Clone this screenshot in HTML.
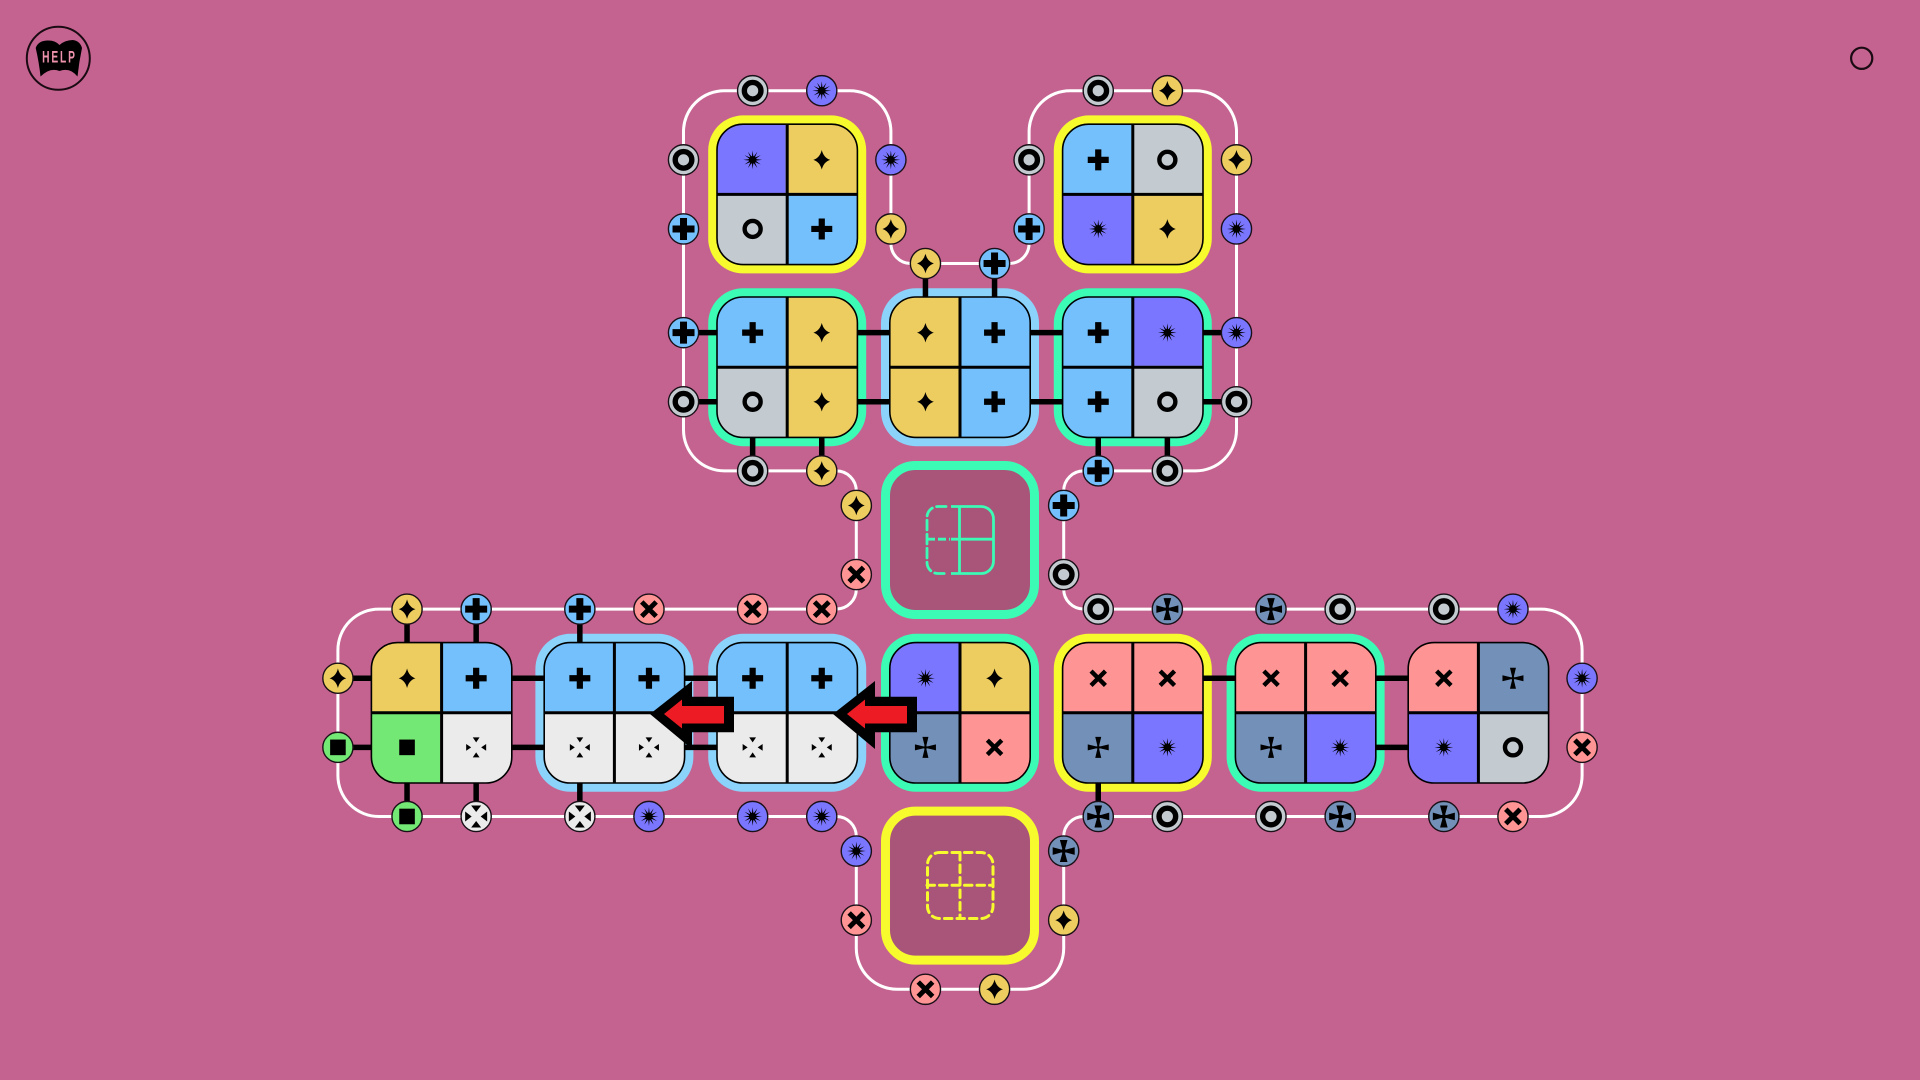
<!DOCTYPE html>
<html><head><meta charset="utf-8"><title>Puzzle</title>
<style>html,body{margin:0;padding:0;background:#c56390;width:1920px;height:1080px;overflow:hidden}svg{display:block}</style></head>
<body>
<svg xmlns="http://www.w3.org/2000/svg" width="1920" height="1080" viewBox="0 0 1920 1080">
<defs>
<clipPath id="cl"><rect x="-70.2" y="-70.2" width="140.4" height="140.4" rx="26"/></clipPath>
<g id="iS"><path d="M0,-9.8Q1.9,-2 8.4,0Q1.9,2 0,9.8Q-1.9,2 -8.4,0Q-1.9,-2 0,-9.8Z" fill="#000"/></g>
<g id="iP"><path d="M-3.1,-10.5H3.1V-3.1H10.5V3.1H3.1V10.5H-3.1V3.1H-10.5V-3.1H-3.1Z" fill="#000"/></g>
<g id="jP"><path d="M-3.5,-11H3.5V-3.5H11V3.5H3.5V11H-3.5V3.5H-11V-3.5H-3.5Z" fill="#000"/></g>
<g id="iR"><circle r="8" fill="none" stroke="#000" stroke-width="4.4"/></g>
<g id="jR"><circle r="8.3" fill="none" stroke="#000" stroke-width="5.4"/></g>
<g id="iB"><polygon fill="#000" points="9.4,0 2.9,.78 8.1,4.7 2.12,2.12 4.7,8.1 .78,2.9 0,9.4 -.78,2.9 -4.7,8.1 -2.12,2.12 -8.1,4.7 -2.9,.78 -9.4,0 -2.9,-.78 -8.1,-4.7 -2.12,-2.12 -4.7,-8.1 -.78,-2.9 0,-9.4 .78,-2.9 4.7,-8.1 2.12,-2.12 8.1,-4.7 2.9,-.78"/><circle r="3.8" fill="#000"/></g>
<g id="iC"><path d="M-3,-10.5H3L1,-2.2L1,-1L2.2,-1L10.5,-3V3L2.2,1L1,1L1,2.2L3,10.5H-3L-1,2.2L-1,1L-2.2,1L-10.5,3V-3L-2.2,-1L-1,-1L-1,-2.2Z" fill="#000"/></g>
<g id="jC"><path d="M-3.8,-11H3.8L1.5,-2.6L1.5,-1.5L2.6,-1.5L11,-3.8V3.8L2.6,1.5L1.5,1.5L1.5,2.6L3.8,11H-3.8L-1.5,2.6L-1.5,1.5L-2.6,1.5L-11,3.8V-3.8L-2.6,-1.5L-1.5,-1.5L-1.5,-2.6Z" fill="#000"/></g>
<g id="iX"><path d="M-7.2,-7.2L7.2,7.2M7.2,-7.2L-7.2,7.2" stroke="#000" stroke-width="4.4" fill="none"/></g>
<g id="jX"><path d="M-7.2,-7.2L7.2,7.2M7.2,-7.2L-7.2,7.2" stroke="#000" stroke-width="4.9" fill="none"/></g>
<g id="iQ"><rect x="-7.8" y="-7.8" width="15.6" height="15.6" fill="#000"/></g>
<g id="iT"><path d="M-3.4,-10H3.4L0,-5ZM-3.4,10H3.4L0,5ZM-10,-3.4V3.4L-5,0ZM10,-3.4V3.4L5,0Z" fill="#000"/></g>
<g id="iU"><path d="M-5,-11H5L0,-4.5ZM-5,11H5L0,4.5ZM-11,-5V5L-4.5,0ZM11,-5V5L4.5,0Z" fill="#000"/></g>

<g id="S"><rect x="-36" y="-36" width="72" height="72" fill="#edcd5f"/><use href="#iS"/></g>
<g id="P"><rect x="-36" y="-36" width="72" height="72" fill="#74c0fc"/><use href="#iP"/></g>
<g id="R"><rect x="-36" y="-36" width="72" height="72" fill="#c3cbd0"/><use href="#iR"/></g>
<g id="B"><rect x="-36" y="-36" width="72" height="72" fill="#7b76ff"/><use href="#iB"/></g>
<g id="C"><rect x="-36" y="-36" width="72" height="72" fill="#7391b8"/><use href="#iC"/></g>
<g id="X"><rect x="-36" y="-36" width="72" height="72" fill="#ff9494"/><use href="#iX"/></g>
<g id="Q"><rect x="-36" y="-36" width="72" height="72" fill="#74e874"/><use href="#iQ"/></g>
<g id="T"><rect x="-36" y="-36" width="72" height="72" fill="#ebebeb"/><use href="#iT"/></g>
<g id="fr"><path d="M0,-70V70M-70,0H70" stroke="#000" stroke-width="3" fill="none"/><rect x="-70.2" y="-70.2" width="140.4" height="140.4" rx="26" fill="none" stroke="#000" stroke-width="1.6"/></g>

<g id="nS"><circle r="15.1" fill="#edcd5f" stroke="#1a1018" stroke-width="1.4"/><use href="#iS"/></g>
<g id="nP"><circle r="15.1" fill="#74c0fc" stroke="#1a1018" stroke-width="1.4"/><use href="#jP"/></g>
<g id="nR"><circle r="15.1" fill="#c3cbd0" stroke="#1a1018" stroke-width="1.4"/><use href="#jR"/></g>
<g id="nB"><circle r="15.1" fill="#7b76ff" stroke="#1a1018" stroke-width="1.4"/><use href="#iB"/></g>
<g id="nC"><circle r="15.1" fill="#7391b8" stroke="#1a1018" stroke-width="1.4"/><use href="#jC"/></g>
<g id="nX"><circle r="15.1" fill="#ff9494" stroke="#1a1018" stroke-width="1.4"/><use href="#jX"/></g>
<g id="nQ"><circle r="15.1" fill="#74e874" stroke="#1a1018" stroke-width="1.4"/><use href="#iQ"/></g>
<g id="nT"><circle r="15.1" fill="#ebebeb" stroke="#1a1018" stroke-width="1.4"/><use href="#iU"/></g>
</defs>

<rect width="1920" height="1080" fill="#c56390"/>

<!-- help -->
<circle cx="58.3" cy="58.3" r="31.5" fill="none" stroke="#1a0a12" stroke-width="2"/>
<path d="M35.7,48Q38,41 47,40.5Q55,40 59.5,45Q65,40 73,40Q80,41 82,48Q79,62 77.5,76.5Q70,67 59.5,71Q50,67 40.5,76.5Q39,62 35.7,48Z" fill="#000"/>
<g transform="translate(58.5,62.3) scale(.62,1)"><text x="0" y="0" text-anchor="middle" font-family="'Liberation Sans',sans-serif" font-weight="700" font-size="16.5" fill="#ee93ad" textLength="53" lengthAdjust="spacing">HELP</text></g>
<!-- right circle -->
<circle cx="1861.7" cy="58.3" r="10.6" fill="none" stroke="#1a0a12" stroke-width="2.2"/>

<!-- loop -->
<path d="M683.5,131.7A41,41 0 0 1 724.5,90.7H849.9A41,41 0 0 1 890.9,131.7V243.5A20,20 0 0 0 910.9,263.5H1009.1A20,20 0 0 0 1029.1,243.5V131.7A41,41 0 0 1 1070.1,90.7H1195.5A41,41 0 0 1 1236.5,131.7V429.9A41,41 0 0 1 1195.5,470.9H1083.7A20,20 0 0 0 1063.7,490.9V589.1A20,20 0 0 0 1083.7,609.1H1541.1A41,41 0 0 1 1582.1,650.1V775.5A41,41 0 0 1 1541.1,816.5H1083.7A20,20 0 0 0 1063.7,836.5V948.3A41,41 0 0 1 1022.7,989.3H897.3A41,41 0 0 1 856.3,948.3V836.5A20,20 0 0 0 836.3,816.5H378.9A41,41 0 0 1 337.9,775.5V650.1A41,41 0 0 1 378.9,609.1H836.3A20,20 0 0 0 856.3,589.1V490.9A20,20 0 0 0 836.3,470.9H724.5A41,41 0 0 1 683.5,429.9Z" fill="none" stroke="#fff" stroke-width="3"/>

<!-- tile borders -->
<g>
<rect x="708.2" y="115.4" width="158" height="158" rx="35" fill="#f7fb2e"/>
<rect x="1053.8" y="115.4" width="158" height="158" rx="35" fill="#f7fb2e"/>
<rect x="708.2" y="288.2" width="158" height="158" rx="35" fill="#3bfbb5"/>
<rect x="881" y="288.2" width="158" height="158" rx="35" fill="#8bd3fb"/>
<rect x="1053.8" y="288.2" width="158" height="158" rx="35" fill="#3bfbb5"/>
<rect x="535.4" y="633.8" width="158" height="158" rx="35" fill="#8bd3fb"/>
<rect x="708.2" y="633.8" width="158" height="158" rx="35" fill="#8bd3fb"/>
<rect x="881" y="633.8" width="158" height="158" rx="35" fill="#3bfbb5"/>
<rect x="1053.8" y="633.8" width="158" height="158" rx="35" fill="#f7fb2e"/>
<rect x="1226.6" y="633.8" width="158" height="158" rx="35" fill="#3bfbb5"/>
</g>

<!-- placeholders -->
<rect x="885.5" y="465.5" width="149" height="149" rx="30" fill="#a9557a" stroke="#3bfbb5" stroke-width="9"/>
<rect x="885.5" y="811.1" width="149" height="149" rx="30" fill="#a9557a" stroke="#f7fb2e" stroke-width="9"/>
<g fill="none" stroke="#3bfbb5" stroke-width="2.8">
<path d="M951,506.5H981A12.5,12.5 0 0 1 993.5,519V561A12.5,12.5 0 0 1 981,573.5H951M959.5,506.5V573.5M951,539.2H993.5"/>
<path stroke-dasharray="9.5 4.5" stroke-linecap="round" d="M946,506.5H938A11,11 0 0 0 927,517.5V562.5A11,11 0 0 0 938,573.5H946"/>
<path stroke-dasharray="8 3" d="M927,539.2H950"/>
</g>
<g fill="none" stroke="#f7fb2e" stroke-width="3" stroke-dasharray="7.5 5" stroke-linecap="round">
<rect x="927.5" y="852.5" width="65.5" height="66" rx="12"/>
<path d="M960,852.5V918.5M927,885.3H993"/>
</g>

<!-- connectors -->
<path d="M683.5,332.64H1236.5M683.5,401.76H1236.5M752.64,367V470.9M821.76,367V470.9M1098.24,367V470.9M1167.36,367V470.9M925.44,263.5V367M994.56,263.5V367M337.9,678.24H787M337.9,747.36H787M407.04,609.1V816.5M476.16,609.1V816.5M579.84,609.1V816.5M1132.8,678.24H1478M1305.6,747.36H1478M1098.24,712.8V816.5" stroke="#000" stroke-width="5.5" fill="none"/>

<!-- tiles -->
<g transform="translate(787.2,194.4)"><g clip-path="url(#cl)"><use href="#B" x="-34.56" y="-34.56"/><use href="#S" x="34.56" y="-34.56"/><use href="#R" x="-34.56" y="34.56"/><use href="#P" x="34.56" y="34.56"/></g><use href="#fr"/></g>
<g transform="translate(1132.8,194.4)"><g clip-path="url(#cl)"><use href="#P" x="-34.56" y="-34.56"/><use href="#R" x="34.56" y="-34.56"/><use href="#B" x="-34.56" y="34.56"/><use href="#S" x="34.56" y="34.56"/></g><use href="#fr"/></g>
<g transform="translate(787.2,367.2)"><g clip-path="url(#cl)"><use href="#P" x="-34.56" y="-34.56"/><use href="#S" x="34.56" y="-34.56"/><use href="#R" x="-34.56" y="34.56"/><use href="#S" x="34.56" y="34.56"/></g><use href="#fr"/></g>
<g transform="translate(960,367.2)"><g clip-path="url(#cl)"><use href="#S" x="-34.56" y="-34.56"/><use href="#P" x="34.56" y="-34.56"/><use href="#S" x="-34.56" y="34.56"/><use href="#P" x="34.56" y="34.56"/></g><use href="#fr"/></g>
<g transform="translate(1132.8,367.2)"><g clip-path="url(#cl)"><use href="#P" x="-34.56" y="-34.56"/><use href="#B" x="34.56" y="-34.56"/><use href="#P" x="-34.56" y="34.56"/><use href="#R" x="34.56" y="34.56"/></g><use href="#fr"/></g>
<g transform="translate(441.6,712.8)"><g clip-path="url(#cl)"><use href="#S" x="-34.56" y="-34.56"/><use href="#P" x="34.56" y="-34.56"/><use href="#Q" x="-34.56" y="34.56"/><use href="#T" x="34.56" y="34.56"/></g><use href="#fr"/></g>
<g transform="translate(614.4,712.8)"><g clip-path="url(#cl)"><use href="#P" x="-34.56" y="-34.56"/><use href="#P" x="34.56" y="-34.56"/><use href="#T" x="-34.56" y="34.56"/><use href="#T" x="34.56" y="34.56"/></g><use href="#fr"/></g>
<g transform="translate(787.2,712.8)"><g clip-path="url(#cl)"><use href="#P" x="-34.56" y="-34.56"/><use href="#P" x="34.56" y="-34.56"/><use href="#T" x="-34.56" y="34.56"/><use href="#T" x="34.56" y="34.56"/></g><use href="#fr"/></g>
<g transform="translate(960,712.8)"><g clip-path="url(#cl)"><use href="#B" x="-34.56" y="-34.56"/><use href="#S" x="34.56" y="-34.56"/><use href="#C" x="-34.56" y="34.56"/><use href="#X" x="34.56" y="34.56"/></g><use href="#fr"/></g>
<g transform="translate(1132.8,712.8)"><g clip-path="url(#cl)"><use href="#X" x="-34.56" y="-34.56"/><use href="#X" x="34.56" y="-34.56"/><use href="#C" x="-34.56" y="34.56"/><use href="#B" x="34.56" y="34.56"/></g><use href="#fr"/></g>
<g transform="translate(1305.6,712.8)"><g clip-path="url(#cl)"><use href="#X" x="-34.56" y="-34.56"/><use href="#X" x="34.56" y="-34.56"/><use href="#C" x="-34.56" y="34.56"/><use href="#B" x="34.56" y="34.56"/></g><use href="#fr"/></g>
<g transform="translate(1478.4,712.8)"><g clip-path="url(#cl)"><use href="#X" x="-34.56" y="-34.56"/><use href="#C" x="34.56" y="-34.56"/><use href="#B" x="-34.56" y="34.56"/><use href="#R" x="34.56" y="34.56"/></g><use href="#fr"/></g>

<!-- nodes -->
<use href="#nR" x="752.64" y="90.72"/><use href="#nB" x="821.76" y="90.72"/>
<use href="#nR" x="683.52" y="159.84"/><use href="#nP" x="683.52" y="228.96"/><use href="#nP" x="683.52" y="332.64"/><use href="#nR" x="683.52" y="401.76"/>
<use href="#nB" x="890.88" y="159.84"/><use href="#nS" x="890.88" y="228.96"/>
<use href="#nS" x="925.44" y="263.52"/><use href="#nP" x="994.56" y="263.52"/>
<use href="#nR" x="1029.12" y="159.84"/><use href="#nP" x="1029.12" y="228.96"/>
<use href="#nR" x="1098.24" y="90.72"/><use href="#nS" x="1167.36" y="90.72"/>
<use href="#nS" x="1236.48" y="159.84"/><use href="#nB" x="1236.48" y="228.96"/><use href="#nB" x="1236.48" y="332.64"/><use href="#nR" x="1236.48" y="401.76"/>
<use href="#nR" x="752.64" y="470.88"/><use href="#nS" x="821.76" y="470.88"/><use href="#nP" x="1098.24" y="470.88"/><use href="#nR" x="1167.36" y="470.88"/>
<use href="#nS" x="856.32" y="505.44"/><use href="#nX" x="856.32" y="574.56"/>
<use href="#nP" x="1063.68" y="505.44"/><use href="#nR" x="1063.68" y="574.56"/>
<use href="#nS" x="407.04" y="609.12"/><use href="#nP" x="476.16" y="609.12"/><use href="#nP" x="579.84" y="609.12"/><use href="#nX" x="648.96" y="609.12"/><use href="#nX" x="752.64" y="609.12"/><use href="#nX" x="821.76" y="609.12"/>
<use href="#nR" x="1098.24" y="609.12"/><use href="#nC" x="1167.36" y="609.12"/><use href="#nC" x="1270.98" y="609.12"/><use href="#nR" x="1340.16" y="609.12"/><use href="#nR" x="1443.84" y="609.12"/><use href="#nB" x="1512.96" y="609.12"/>
<use href="#nS" x="337.92" y="678.24"/><use href="#nQ" x="337.92" y="747.36"/>
<use href="#nB" x="1582.08" y="678.24"/><use href="#nX" x="1582.08" y="747.36"/>
<use href="#nQ" x="407.04" y="816.48"/><use href="#nT" x="476.16" y="816.48"/><use href="#nT" x="579.84" y="816.48"/><use href="#nB" x="648.96" y="816.48"/><use href="#nB" x="752.64" y="816.48"/><use href="#nB" x="821.76" y="816.48"/>
<use href="#nC" x="1098.24" y="816.48"/><use href="#nR" x="1167.36" y="816.48"/><use href="#nR" x="1270.98" y="816.48"/><use href="#nC" x="1340.16" y="816.48"/><use href="#nC" x="1443.84" y="816.48"/><use href="#nX" x="1512.96" y="816.48"/>
<use href="#nB" x="856.32" y="851.04"/><use href="#nX" x="856.32" y="920.16"/>
<use href="#nC" x="1063.68" y="851.04"/><use href="#nS" x="1063.68" y="920.16"/>
<use href="#nX" x="925.44" y="989.28"/><use href="#nS" x="994.56" y="989.28"/>

<!-- arrows -->
<polygon points="650,714 692,681 692,696.7 734,696.7 734,732.3 692,732.3 692,749" fill="#000"/>
<polygon points="664,714 682,699.5 682,706 724,706 724,723.5 682,723.5 682,728.5" fill="#ed1c24"/>
<polygon points="833,714 875,681 875,696.7 917,696.7 917,732.3 875,732.3 875,749" fill="#000"/>
<polygon points="847,714 865,699.5 865,706 907,706 907,723.5 865,723.5 865,728.5" fill="#ed1c24"/>
</svg>
</body></html>
